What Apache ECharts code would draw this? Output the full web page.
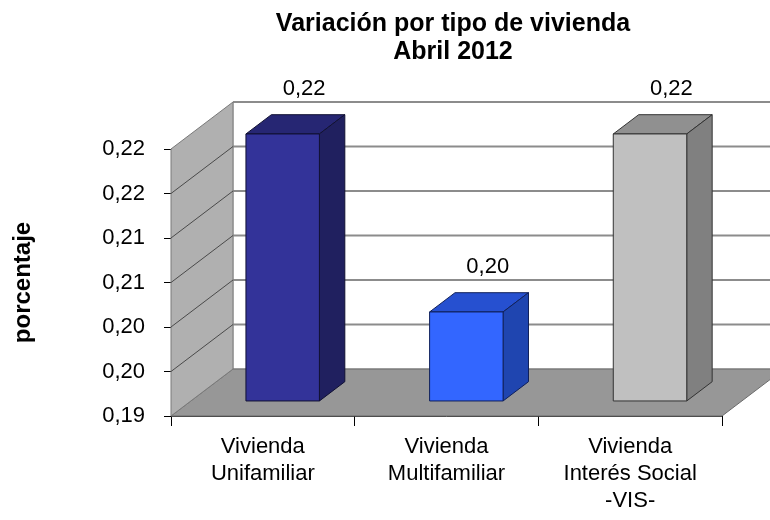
<!DOCTYPE html>
<html>
<head>
<meta charset="utf-8">
<script src="https://cdn.jsdelivr.net/npm/echarts@6/dist/echarts.min.js"></script>
<style>
html,body{margin:0;padding:0;background:#fff;}
#chart{width:770px;height:520px;}
</style>
</head>
<body>
<div id="chart"></div>
<script>
// ---- data ----
const categories = ['Vivienda\nUnifamiliar', 'Vivienda\nMultifamiliar', 'Vivienda\nInterés Social\n-VIS-'];
const values = [0.22, 0.20, 0.22];
const yTickLabels = ['0,19', '0,20', '0,20', '0,21', '0,21', '0,22', '0,22'];
const yMin = 0.19, yMax = 0.22, yStep = 0.005;
const titleText = 'Variación por tipo de vivienda\nAbril 2012';
const yName = 'porcentaje';

// ---- styles ----
const FONT = '"Liberation Sans", Arial, sans-serif';
const DX = 62, DY = -47;          // depth vector of the 3D box
const barStyles = [
  {face: '#333399', top: '#262673', side: '#20205f', stroke: '#111133'},
  {face: '#3366ff', top: '#2650d0', side: '#1f45b0', stroke: '#10205a'},
  {face: '#c0c0c0', top: '#909090', side: '#808080', stroke: '#333333'}
];

const chart = echarts.init(document.getElementById('chart'), null, {renderer: 'canvas'});

function frameRender(params, api) {
  const cs = params.coordSys;
  const x0 = cs.x, x1 = cs.x + cs.width;
  const yT = cs.y, yB = cs.y + cs.height;
  const children = [];
  // back wall
  children.push({type: 'polygon', shape: {points: [[x0 + DX, yT + DY], [x1 + DX, yT + DY], [x1 + DX, yB + DY], [x0 + DX, yB + DY]]},
    style: {fill: '#ffffff', stroke: '#9a9a9a', lineWidth: 1}});
  // back gridlines
  const n = Math.round((yMax - yMin) / yStep);
  for (let k = 1; k <= n; k++) {
    const y = api.coord([0, yMin + k * yStep])[1];
    children.push({type: 'line', shape: {x1: x0 + DX, y1: y + DY, x2: x1 + DX, y2: y + DY},
      style: {stroke: '#8c8c8c', lineWidth: 2}});
  }
  // floor
  children.push({type: 'polygon', shape: {points: [[x0, yB], [x1, yB], [x1 + DX, yB + DY], [x0 + DX, yB + DY]]},
    style: {fill: '#979797', stroke: '#6a6a6a', lineWidth: 1}});
  // left wall
  children.push({type: 'polygon', shape: {points: [[x0, yB], [x0, yT], [x0 + DX, yT + DY], [x0 + DX, yB + DY]]},
    style: {fill: '#b0b0b0', stroke: '#7a7a7a', lineWidth: 1}});
  for (let k = 1; k < n; k++) {
    const y = api.coord([0, yMin + k * yStep])[1];
    children.push({type: 'line', shape: {x1: x0, y1: y, x2: x0 + DX, y2: y + DY},
      style: {stroke: '#4a4a4a', lineWidth: 1}});
  }
  return {type: 'group', children: children};
}

function barRender(params, api) {
  const i = api.value(0), v = api.value(1);
  const base = api.coord([i, yMin]);
  const top = api.coord([i, v]);
  const bw = api.size([1, 0])[0];
  const w = bw * 0.4;
  const f = 0.32, d = 0.41;
  const fx = base[0] + f * DX;
  const yb = base[1] + f * DY, yt = top[1] + f * DY;
  const l = fx - w / 2, r = fx + w / 2;
  const ddx = d * DX, ddy = d * DY;
  const s = barStyles[params.dataIndex];
  const txt = v.toFixed(2).replace('.', ',');
  return {type: 'group', children: [
    {type: 'polygon', shape: {points: [[l, yt], [r, yt], [r + ddx, yt + ddy], [l + ddx, yt + ddy]]},
      style: {fill: s.top, stroke: s.stroke, lineWidth: 1}},
    {type: 'polygon', shape: {points: [[r, yt], [r, yb], [r + ddx, yb + ddy], [r + ddx, yt + ddy]]},
      style: {fill: s.side, stroke: s.stroke, lineWidth: 1}},
    {type: 'rect', shape: {x: l, y: yt, width: w, height: yb - yt},
      style: {fill: s.face, stroke: s.stroke, lineWidth: 1}},
    {type: 'text', style: {text: txt, x: fx + ddx - 4, y: yt + ddy - 26, align: 'center', verticalAlign: 'middle',
      fontSize: 22, fontFamily: FONT, fill: '#000'}}
  ]};
}

chart.setOption({
  animation: false,
  backgroundColor: '#ffffff',
  title: {
    text: titleText, left: 448, top: 5, textAlign: 'center',
    textStyle: {fontSize: 25, fontWeight: 'bold', fontFamily: FONT, color: '#000', lineHeight: 28}
  },
  grid: {left: 171, right: 48, top: 149, bottom: 104, containLabel: false, outerBoundsMode: 'none'},
  xAxis: {
    type: 'category', data: categories, boundaryGap: true,
    axisLine: {lineStyle: {color: '#333', width: 1}},
    axisTick: {show: true, interval: 0, length: 10, lineStyle: {color: '#000'}},
    axisLabel: {interval: 0, margin: 17, fontSize: 22, lineHeight: 27, fontFamily: FONT, color: '#000'}
  },
  yAxis: {
    type: 'value', min: yMin, max: yMax, interval: yStep,
    name: yName, nameLocation: 'middle', nameRotate: 90, nameGap: 136,
    nameTextStyle: {fontSize: 24, fontWeight: 'bold', fontFamily: FONT, color: '#000'},
    axisLine: {show: true, lineStyle: {color: '#333', width: 1}},
    axisTick: {show: true, length: 7, lineStyle: {color: '#000'}},
    splitLine: {show: false},
    axisLabel: {margin: 26, fontSize: 22, fontFamily: FONT, color: '#000',
      formatter: function (val) { return yTickLabels[Math.round((val - yMin) / yStep)]; }}
  },
  series: [
    {type: 'custom', name: 'frame', z: 1, renderItem: frameRender, data: [[0, yMin]], silent: true},
    {type: 'custom', name: 'bars', z: 3, renderItem: barRender,
      data: values.map(function (v, i) { return [i, v]; })}
  ]
});
</script>
</body>
</html>
